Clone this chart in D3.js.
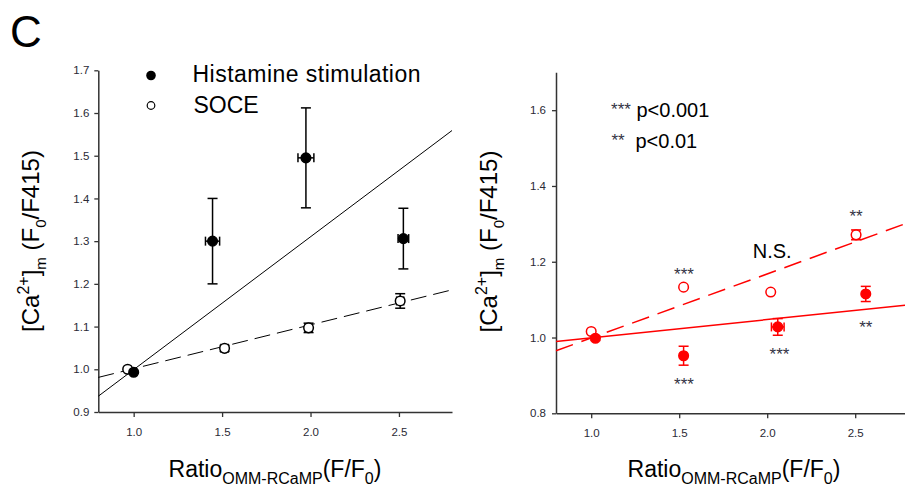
<!DOCTYPE html>
<html>
<head>
<meta charset="utf-8">
<script src="https://cdn.jsdelivr.net/npm/d3@7"></script>
<style>
  html, body { margin: 0; padding: 0; background: #fff; }
  svg { display: block; font-family: "Liberation Sans", Arial, sans-serif; }
</style>
</head>
<body>
<svg id="chart" width="905" height="491"></svg>
<script>
// left panel: histamine (filled) and SOCE (open)
const leftHistX = [1.0, 1.446, 1.974, 2.525];
const leftHistY = [0.993, 1.30, 1.495, 1.306];
const leftHistXErr = [0.0, 0.04, 0.045, 0.03];
const leftHistYErr = [0.0, 0.10, 0.117, 0.071];
const leftSoceX = [0.966, 1.514, 1.989, 2.507];
const leftSoceY = [1.0, 1.049, 1.097, 1.16];
const leftSoceXErr = [0.0, 0.02, 0.02, 0.02];
const leftSoceYErr = [0.0, 0.007, 0.011, 0.017];
const leftHistFit = [[0.8, 0.937], [2.8, 1.559]];
const leftSoceFit = [[0.8, 0.981], [2.8, 1.186]];
const leftXTicks = [1.0, 1.5, 2.0, 2.5];
const leftYTicks = [0.9, 1.0, 1.1, 1.2, 1.3, 1.4, 1.5, 1.6, 1.7];

// right panel (red)
const rightHistX = [1.024, 1.525, 2.06, 2.56];
const rightHistY = [0.998, 0.952, 1.028, 1.115];
const rightHistXErr = [0.01, 0.012, 0.036, 0.012];
const rightHistYErr = [0.006, 0.025, 0.022, 0.02];
const rightSoceX = [1.0, 1.525, 2.02, 2.505];
const rightSoceY = [1.016, 1.133, 1.12, 1.271];
const rightSoceXErr = [0.0, 0.0, 0.0, 0.02];
const rightSoceYErr = [0.0, 0.0, 0.0, 0.013];
const rightHistFit = [[0.8, 0.9895], [2.8, 1.086]];
const rightSoceFit = [[0.8, 0.965], [2.8, 1.303]];
const rightXTicks = [1.0, 1.5, 2.0, 2.5];
const rightYTicks = [0.8, 1.0, 1.2, 1.4, 1.6];

// significance marks on the right panel
const starX = [1.527, 1.527, 2.07, 2.56, 2.505];
const starY = [1.177, 0.886, 0.965, 1.038, 1.330];
const starText = ["***", "***", "***", "**", "**"];

const svg = d3.select('#chart');
const axisColor = "#333";

const zip = (xs, ys, xe, ye) => xs.map((x, i) => ({x: x, y: ys[i], xe: xe[i], ye: ye[i]}));

// build one panel: axes, fit lines, error bars, markers
const panel = (opt) => {
    const x = d3.scaleLinear().domain([0.8, 2.8]).range(opt.xr);
    const y = d3.scaleLinear().domain(opt.yd).range(opt.yr);
    const g = svg.append("g");

    const xAxis = g.append("g")
        .attr("transform", `translate(0,${opt.yr[0]})`)
        .call(d3.axisBottom(x).tickValues(opt.xt).tickFormat(d3.format(".1f"))
            .tickSize(5).tickSizeOuter(0).tickPadding(11));
    const yAxis = g.append("g")
        .attr("transform", `translate(${opt.xr[0]},0)`)
        .call(d3.axisLeft(y).tickValues(opt.yt).tickFormat(d3.format(".1f"))
            .tickSize(4).tickSizeOuter(0).tickPadding(opt.ypad));
    [xAxis, yAxis].forEach(a => {
        a.select(".domain").attr("stroke", axisColor).attr("stroke-width", 1.5);
        a.selectAll(".tick line").attr("stroke", axisColor).attr("stroke-width", 1.3);
        a.selectAll(".tick text").attr("fill", "#2a2a35").attr("font-size", 11.5)
            .attr("font-family", "'Liberation Sans', Arial, sans-serif");
    });

    const line = d3.line().x(d => x(d[0])).y(d => y(d[1]));
    g.append("path").attr("d", line(opt.fitA))
        .attr("fill", "none").attr("stroke", opt.color).attr("stroke-width", opt.lw);
    g.append("path").attr("d", line(opt.fitB))
        .attr("fill", "none").attr("stroke", opt.color).attr("stroke-width", opt.lw)
        .attr("stroke-dasharray", opt.dash);

    const drawSeries = (data, filled) => {
        const s = g.append("g").attr("stroke", opt.color).attr("stroke-width", 1.5);
        data.filter(d => d.ye > 0).forEach(d => {
            s.append("line").attr("x1", x(d.x)).attr("x2", x(d.x))
                .attr("y1", y(d.y - d.ye)).attr("y2", y(d.y + d.ye));
            [d.y - d.ye, d.y + d.ye].forEach(v => {
                s.append("line").attr("x1", x(d.x) - 5).attr("x2", x(d.x) + 5)
                    .attr("y1", y(v)).attr("y2", y(v));
            });
        });
        data.filter(d => d.xe > 0).forEach(d => {
            s.append("line").attr("x1", x(d.x - d.xe)).attr("x2", x(d.x + d.xe))
                .attr("y1", y(d.y)).attr("y2", y(d.y));
            [d.x - d.xe, d.x + d.xe].forEach(v => {
                s.append("line").attr("x1", x(v)).attr("x2", x(v))
                    .attr("y1", y(d.y) - 4.5).attr("y2", y(d.y) + 4.5);
            });
        });
        s.selectAll("circle").data(data).join("circle")
            .attr("cx", d => x(d.x)).attr("cy", d => y(d.y)).attr("r", 4.8)
            .attr("fill", filled ? opt.color : "#fff");
    };
    drawSeries(zip(opt.sx, opt.sy, opt.sxe, opt.sye), false);
    drawSeries(zip(opt.hx, opt.hy, opt.hxe, opt.hye), true);

    return {g, x, y};
};

const left = panel({
    xr: [98.3, 452], yd: [0.9, 1.7], yr: [412, 70.3], xt: leftXTicks, yt: leftYTicks, ypad: 5,
    color: "#000", lw: 1, dash: "16,7",
    fitA: leftHistFit, fitB: leftSoceFit,
    hx: leftHistX, hy: leftHistY, hxe: leftHistXErr, hye: leftHistYErr,
    sx: leftSoceX, sy: leftSoceY, sxe: leftSoceXErr, sye: leftSoceYErr
});

const right = panel({
    xr: [556, 908], yd: [0.8, 1.7], yr: [413.3, 72.3], xt: rightXTicks, yt: rightYTicks, ypad: 6,
    color: "#ff0000", lw: 1.5, dash: "18,9",
    fitA: rightHistFit, fitB: rightSoceFit,
    hx: rightHistX, hy: rightHistY, hxe: rightHistXErr, hye: rightHistYErr,
    sx: rightSoceX, sy: rightSoceY, sxe: rightSoceXErr, sye: rightSoceYErr
});

// panel letter
svg.append("text").attr("x", 10).attr("y", 47).attr("font-size", 44).text("C");

// legend of left panel
svg.append("circle").attr("cx", 151).attr("cy", 75.5).attr("r", 4.8).attr("fill", "#000");
svg.append("circle").attr("cx", 151).attr("cy", 105.5).attr("r", 3.8)
    .attr("fill", "#fff").attr("stroke", "#000").attr("stroke-width", 1.2);
svg.append("text").attr("x", 192.5).attr("y", 82).attr("font-size", 23)
    .attr("textLength", 228).attr("lengthAdjust", "spacing").text("Histamine stimulation");
svg.append("text").attr("x", 193.5).attr("y", 112.5).attr("font-size", 23).text("SOCE");

// axis titles
const yTitle = (cx, cy) => {
    const t = svg.append("text").attr("transform", `translate(${cx},${cy}) rotate(-90)`)
        .attr("text-anchor", "middle").attr("font-size", 24);
    t.append("tspan").text("[Ca");
    t.append("tspan").attr("font-size", 16).attr("dy", -10).text("2+");
    t.append("tspan").attr("dy", 10).text("]");
    t.append("tspan").attr("font-size", 15).attr("dy", 7).text("m");
    t.append("tspan").attr("dy", -7).text(" (F");
    t.append("tspan").attr("font-size", 15).attr("dy", 7).text("0");
    t.append("tspan").attr("dy", -7).text("/F415)");
};
yTitle(38.5, 241);
yTitle(497, 241.5);

const xTitle = (cx, by) => {
    const t = svg.append("text").attr("x", cx).attr("y", by)
        .attr("text-anchor", "middle").attr("font-size", 23);
    t.append("tspan").text("Ratio");
    t.append("tspan").attr("font-size", 16).attr("dy", 7).text("OMM-RCaMP");
    t.append("tspan").attr("dy", -7).text("(F/F");
    t.append("tspan").attr("font-size", 16).attr("dy", 7).text("0");
    t.append("tspan").attr("dy", -7).text(")");
};
xTitle(275, 477);
xTitle(734, 477);

// right panel annotations
const starFill = "#334";
const starBase = 9.5; // asterisk glyph centre sits ~0.56em above baseline
right.g.append("g").selectAll("text").data(starText).join("text")
    .attr("x", (d, i) => right.x(starX[i]))
    .attr("y", (d, i) => right.y(starY[i]) + starBase)
    .attr("text-anchor", "middle").attr("font-size", 17).attr("fill", starFill)
    .text(d => d);

svg.append("text").attr("x", 621).attr("y", 105 + starBase).attr("text-anchor", "middle")
    .attr("font-size", 17).attr("fill", starFill).text("***");
svg.append("text").attr("x", 618).attr("y", 136.7 + starBase).attr("text-anchor", "middle")
    .attr("font-size", 17).attr("fill", starFill).text("**");
svg.append("text").attr("x", 636.5).attr("y", 117).attr("font-size", 20).text("p<0.001");
svg.append("text").attr("x", 635.5).attr("y", 148).attr("font-size", 20).text("p<0.01");
svg.append("text").attr("x", right.x(1.918)).attr("y", right.y(1.21)).attr("font-size", 20).text("N.S.");
</script>
</body>
</html>
